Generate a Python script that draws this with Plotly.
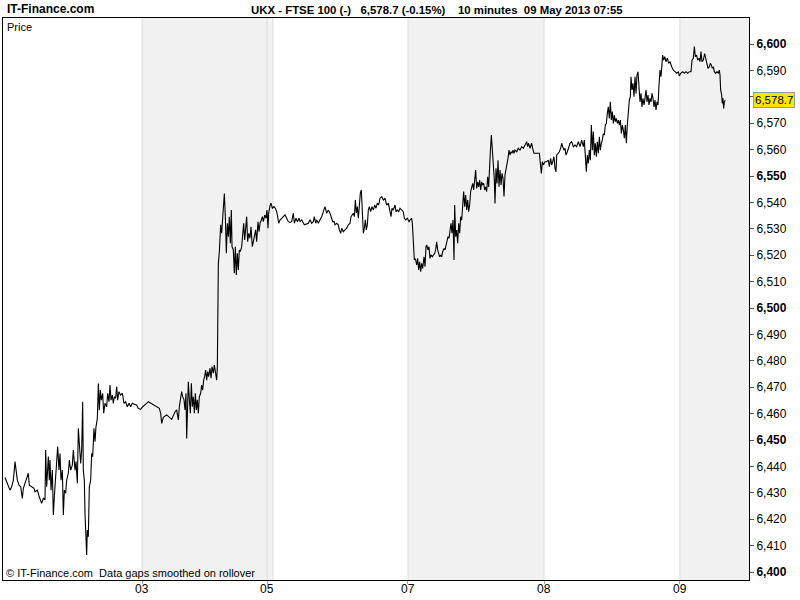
import plotly.graph_objects as go

# ---- data: (10-minute bar index, FTSE 100 price) ----
may02 = [(0.74,6435.8),(1.36,6434.2),(1.98,6432.9),(2.59,6431.0),(3.21,6432.3),(3.83,6434.8),(4.45,6441.8),(4.82,6438.6),
 (5.31,6434.8),(5.93,6432.9),(6.54,6432.3),(7.16,6427.9),(7.53,6431.7),(9.38,6437.4),(9.75,6432.9),(10.62,6432.3),
 (11.48,6431.7),(11.85,6430.4),(12.72,6431.0),(13.33,6428.8),(13.95,6427.3),(14.32,6426.0),(14.94,6427.9),(15.56,6427.3),
 (15.80,6446.2),(16.17,6432.3),(16.79,6443.7),(17.16,6434.8),(17.41,6442.4),(17.78,6431.0),(18.27,6438.6),(18.64,6421.6),
 (19.01,6428.5),(19.51,6434.8),(19.88,6439.9),(20.25,6447.5),(20.74,6438.6),(21.11,6444.9),(21.48,6434.8),(21.98,6438.6),
 (22.35,6421.6),(22.72,6431.0),(23.21,6429.8),(23.58,6434.8),(24.20,6437.4),(24.57,6442.4),(25.06,6438.6),(25.68,6440.5),
 (26.05,6446.2),(26.67,6438.6),(27.04,6441.8),(27.53,6433.6),(27.90,6454.4),(28.27,6450.0),(28.77,6441.1),(29.14,6446.2),
 (29.51,6464.5),(29.75,6438.6),(30.12,6434.8),(30.37,6422.2),(30.74,6412.1),(30.99,6406.4),(31.23,6415.9),(31.60,6413.4),
 (31.98,6432.3),(32.47,6434.8),(32.84,6444.9),(33.21,6443.7),(33.70,6454.4),(34.07,6449.4),(34.44,6455.0),(34.94,6458.2),
 (35.31,6471.4),(35.68,6461.3),(36.05,6468.9),(36.42,6465.1),(36.91,6467.7),(37.28,6460.1),(37.78,6463.9),(38.40,6462.6),
 (38.77,6467.7),(39.26,6464.5),(39.63,6470.8),(40.00,6465.1),(40.49,6467.0),(40.86,6463.9),(41.23,6466.4),(41.73,6465.8),
 (42.10,6470.2),(42.47,6465.1),(42.96,6468.3),(43.58,6467.0),(44.20,6467.7),(44.81,6463.9),(45.43,6464.5),(46.05,6462.6),
 (46.67,6463.9),(47.28,6462.6),(47.90,6463.9),(49.51,6463.2),(50.12,6462.0),(50.99,6461.6)]
may03 = [(51.73,6462.6),(52.59,6463.2),(53.21,6463.9),(53.83,6464.5),(56.67,6462.6),(57.90,6462.0),(58.40,6460.1),
 (58.77,6456.3),(59.39,6458.6),(60.62,6459.5),(62.47,6457.8),(63.71,6460.7),(64.32,6461.4),(64.94,6457.6),(65.31,6462.6),
 (65.81,6465.2),(66.17,6468.3),(66.54,6466.4),(67.04,6465.2),(67.41,6461.4),(67.78,6467.7),(68.03,6450.6),(68.40,6460.1),
 (68.64,6472.1),(69.02,6465.2),(69.39,6460.1),(69.76,6471.5),(70.13,6462.6),(70.50,6466.4),(70.87,6460.1),(71.24,6467.7),
 (71.61,6461.4),(71.98,6465.2),(72.35,6460.1),(72.72,6466.4),(73.21,6467.7),(73.58,6470.8),(73.95,6468.9),(74.32,6472.7),
 (74.69,6474.0),(75.06,6476.5),(75.44,6472.7),(75.81,6475.9),(76.18,6474.0),(76.67,6477.2),(77.04,6473.4),(77.41,6477.8),
 (77.91,6475.3),(78.27,6478.4),(78.77,6474.0),(79.14,6472.7),(79.39,6477.8),(79.51,6505.0),(79.76,6516.9),(80.13,6521.4),
 (80.37,6525.8),(80.62,6531.5),(80.99,6528.3),(81.36,6535.9),(81.61,6540.9),(81.98,6543.4),(82.35,6534.6),(82.72,6520.7),
 (83.09,6532.1),(83.46,6527.0),(83.83,6534.6),(84.20,6524.5),(84.57,6537.1),(84.82,6523.2),(85.31,6522.0),(85.68,6513.2),
 (86.05,6523.2),(86.42,6512.5),(86.79,6520.7),(87.16,6514.4),(87.53,6522.0),(87.90,6521.4),(88.40,6523.2),(88.77,6527.7),
 (89.14,6532.1),(89.51,6525.8),(89.88,6529.6),(90.25,6534.6),(90.62,6525.1),(90.99,6528.3),(91.48,6526.4),(91.85,6530.8),
 (92.35,6523.2),(92.72,6525.1),(93.21,6527.0),(93.58,6529.6),(93.95,6525.1),(94.45,6532.7),(94.82,6528.9),(95.19,6532.1),
 (95.68,6533.3),(96.05,6534.6),(96.42,6532.7),(96.92,6535.2),(97.41,6534.0),(97.78,6537.1)]
may05 = [(98.15,6530.2),(98.40,6535.9),(98.89,6538.7),(99.26,6539.7),(99.76,6537.8)]
may06 = [(100.37,6538.4),(100.87,6537.8),(101.36,6536.5),(101.73,6534.6),(102.10,6532.1),(102.60,6533.3),(103.21,6534.0),
 (103.83,6534.6),(104.45,6535.3),(105.07,6534.0),(105.68,6532.7),(106.30,6532.4),(106.92,6532.7),(107.54,6535.9),
 (107.91,6532.1),(108.52,6534.0),(109.02,6532.7),(109.63,6534.0),(110.00,6532.7),(110.62,6533.4),(111.24,6532.1),
 (111.61,6531.5),(113.09,6532.1),(113.71,6533.4),(114.33,6532.1),(114.94,6532.7),(115.31,6534.6),(115.81,6532.1),
 (116.18,6533.4),(116.79,6532.1),(117.41,6533.4),(118.03,6534.6),(118.65,6536.5),(119.26,6538.4),(119.88,6535.9),
 (120.50,6537.1),(121.12,6535.9),(121.73,6534.0),(122.10,6532.7),(122.60,6532.7),(122.97,6531.5),(123.59,6532.1),
 (124.20,6531.5),(124.57,6529.6),(125.07,6528.3),(125.44,6530.2),(126.06,6528.9),(126.67,6529.6),(127.29,6530.2),
 (127.91,6531.5),(128.52,6532.1),(128.89,6534.6),(129.26,6535.3),(129.76,6535.9),(130.13,6534.6),(130.50,6540.9),
 (130.87,6535.9),(131.24,6538.4),(131.61,6534.0),(131.98,6539.7),(132.35,6543.5),(132.72,6544.7),(133.09,6537.1),
 (133.46,6528.3),(133.83,6530.2),(134.20,6533.4),(134.57,6529.6),(134.94,6531.5),(135.31,6537.1),(135.68,6538.4),
 (136.18,6536.5),(136.67,6538.4),(137.17,6537.1),(137.66,6539.0),(138.15,6537.8),(138.65,6539.7),(139.14,6539.0),
 (139.64,6541.6),(140.25,6542.2),(140.87,6540.9),(141.49,6541.6),(142.10,6539.0),(142.72,6539.7),(143.34,6537.1),
 (143.71,6534.6),(144.08,6537.8),(144.57,6537.1),(145.19,6539.0),(145.56,6536.5),(146.06,6537.1),(146.55,6536.5),
 (147.04,6537.8),(148.27,6536.5),(148.65,6534.0),(149.14,6533.4),(149.76,6534.0)]
may07 = [(150.38,6532.7),(151.00,6533.6),(151.36,6534.0),(151.61,6532.1),(151.98,6525.2),(152.35,6518.2),(152.47,6518.8),
 (152.84,6518.2),(153.21,6516.3),(153.58,6518.8),(153.95,6514.4),(154.32,6517.5),(154.69,6513.8),(155.06,6516.9),
 (155.44,6515.0),(155.93,6519.4),(156.30,6515.6),(156.67,6523.2),(156.92,6523.9),(157.41,6522.0),(157.78,6523.2),
 (158.15,6518.8),(158.52,6520.1),(159.02,6519.4),(159.39,6520.1),(159.88,6520.7),(160.25,6522.0),(160.62,6525.1),
 (160.99,6522.0),(161.36,6520.7),(161.73,6519.4),(162.10,6520.1),(162.47,6519.4),(162.84,6521.3),(163.34,6522.6),
 (163.71,6522.0),(164.08,6523.9),(164.45,6524.5),(164.82,6527.0),(165.19,6526.4),(165.56,6529.5),(165.93,6532.1),
 (166.30,6528.3),(166.67,6533.3),(167.04,6518.2),(167.29,6539.0),(167.66,6527.0),(168.03,6529.5),(168.40,6524.5),
 (168.77,6532.1),(169.14,6528.3),(169.51,6534.6),(169.88,6533.3),(170.25,6539.6),(170.62,6544.1),(170.99,6538.4),
 (171.36,6542.8),(171.73,6537.1),(172.10,6540.9),(172.47,6536.5),(172.84,6539.0),(173.21,6544.1),(173.58,6545.9),
 (173.95,6547.2),(174.32,6544.7),(174.69,6549.7),(175.06,6552.3),(175.44,6545.3),(175.81,6547.8),(176.18,6545.9),
 (176.55,6548.5),(176.92,6544.7),(177.29,6547.8),(177.66,6546.6),(178.03,6547.2),(178.40,6544.7),(178.77,6545.9),
 (179.14,6544.1),(179.51,6549.7),(179.88,6545.9),(180.13,6554.2),(180.50,6559.2),(180.87,6565.5),(181.24,6559.8),
 (181.61,6556.0),(181.98,6548.5),(182.23,6539.6),(182.60,6552.9),(182.97,6547.2),(183.34,6556.0),(183.71,6545.9),
 (184.08,6552.3),(184.45,6546.6),(184.82,6551.0),(185.19,6549.1),(185.56,6542.2),(185.93,6550.4),(186.30,6552.3),
 (186.67,6554.8),(187.04,6556.7),(187.41,6559.8),(187.78,6557.9),(188.15,6559.2),(188.52,6558.6),(188.89,6559.8),
 (189.26,6558.6),(189.63,6559.8),(190.25,6559.2),(190.87,6560.5),(191.48,6559.8),(192.10,6561.1),(192.72,6560.5),
 (193.34,6561.7),(193.95,6563.0),(194.32,6561.1),(194.69,6562.4),(195.19,6560.5),(195.80,6562.4),(196.17,6560.5),
 (196.67,6558.6),(198.65,6558.6),(199.02,6553.5),(199.39,6551.0),(199.76,6555.4)]
may08 = [(200.13,6554.2),(200.75,6555.4),(201.36,6555.4),(201.98,6556.0),(202.35,6553.5),(202.84,6556.7),(203.21,6554.2),
 (203.59,6555.4),(204.08,6557.3),(204.45,6552.9),(204.82,6551.6),(205.07,6557.9),(205.56,6558.6),(206.05,6559.2),
 (206.55,6560.5),(206.92,6562.4),(207.29,6561.1),(207.78,6559.8),(208.15,6560.5),(208.52,6557.9),(209.02,6559.2),
 (209.39,6560.5),(210.00,6562.4),(210.62,6563.0),(211.24,6561.1),(211.86,6561.7),(212.47,6561.1),(213.09,6563.0),
 (213.71,6561.1),(214.33,6563.6),(214.94,6561.1),(215.31,6563.6),(215.68,6556.7),(216.05,6551.6),(216.42,6557.9),
 (216.79,6554.8),(217.16,6559.8),(217.54,6556.0),(217.91,6569.3),(218.28,6559.8),(218.65,6566.8),(219.02,6557.9),
 (219.39,6562.4),(219.76,6557.3),(220.13,6563.0),(220.50,6558.6),(220.87,6564.9),(221.24,6559.8),(221.61,6562.4),
 (221.98,6563.6),(222.35,6566.1),(222.72,6565.5),(223.09,6569.3),(223.46,6569.9),(223.83,6573.7),(224.20,6576.2),
 (224.57,6571.8),(224.94,6578.1),(225.31,6571.2),(225.68,6574.4),(226.05,6569.9),(226.42,6573.1),(226.79,6570.6),
 (227.16,6571.8),(227.54,6569.9),(227.91,6571.2),(228.28,6569.3),(228.65,6571.2),(229.02,6566.1),(229.39,6569.3),
 (229.76,6567.4),(230.13,6564.3),(230.50,6569.3),(230.87,6562.4),(231.24,6569.3),(231.61,6576.2),(231.98,6578.8),
 (232.35,6580.0),(232.59,6587.6),(232.96,6582.6),(233.33,6585.1),(233.71,6580.0),(234.08,6587.6),(234.45,6581.3),
 (234.82,6588.2),(235.19,6589.5),(235.56,6582.6),(235.93,6578.1),(236.30,6581.3),(236.67,6576.2),(237.04,6579.4),
 (237.41,6576.9),(237.78,6579.4),(238.15,6582.6),(238.52,6578.1),(238.89,6580.7),(239.26,6576.9),(239.63,6579.4),
 (240.00,6578.1),(240.37,6581.3),(240.75,6579.4),(241.12,6576.2),(241.49,6578.8),(241.86,6575.0),(242.23,6578.1),
 (242.60,6576.9),(242.97,6584.5),(243.34,6590.1),(243.71,6587.6),(244.08,6592.7),(244.33,6595.8),(244.70,6593.9),
 (245.07,6595.2),(245.56,6593.3),(246.06,6594.6),(246.55,6592.7),(247.04,6593.3),(247.66,6591.4),(248.28,6590.1),
 (248.89,6589.5),(249.51,6588.9),(250.13,6589.5),(250.50,6587.9)]
may09 = [(251.00,6588.9),(251.74,6589.5),(252.35,6588.9),(252.97,6589.5),(253.59,6588.9),(254.20,6589.5),(254.82,6589.5),
 (255.19,6593.9),(255.68,6594.6),(256.06,6599.0),(256.43,6595.2),(256.92,6595.8),(257.29,6593.9),(257.78,6594.6),
 (258.15,6593.3),(258.52,6597.1),(258.89,6593.3),(259.38,6593.9),(259.88,6596.4),(260.37,6594.6),(260.75,6592.7),
 (261.12,6590.8),(261.61,6591.4),(261.98,6592.7),(262.35,6592.0),(262.72,6590.8),(263.09,6591.4),(263.46,6589.5),
 (263.96,6588.9),(264.45,6589.5),(264.94,6588.9),(265.31,6590.1),(265.56,6588.2),(265.80,6582.6),(266.17,6580.7),
 (266.42,6577.5),(266.67,6579.4),(266.91,6575.6),(267.17,6578.1),(267.54,6578.7)]

day_starts = [51.5, 97.8, 100.0, 150.0, 200.4, 250.7]   # bar index where each session starts
tick_bars = [51.5, 97.8, 150.0, 200.4, 250.7]
tick_labels = ["03", "05", "07", "08", "09"]
shaded_days = [(51.5, 100.0), (150.0, 200.4), (250.7, 276.3)]
x_range = [0, 276.3]
y_range = [6396.97, 6609.85]
price_ticks = list(range(6400, 6601, 10))
last_price = 6578.7
title_text = "UKX - FTSE 100 (-)&nbsp;&nbsp; 6,578.7 (-0.15%)&nbsp;&nbsp;&nbsp; 10 minutes&nbsp; 09 May 2013 07:55"

series = may02 + may03 + may05 + may06 + may07 + may08 + may09
xs = [p[0] for p in series]
ys = [p[1] for p in series]

FONT = "Liberation Sans, Arial, sans-serif"

fig = go.Figure()
fig.add_trace(go.Scatter(x=xs, y=ys, mode="lines",
                         line=dict(color="black", width=1.1), hoverinfo="skip", showlegend=False))

shapes = []
for a, b in shaded_days:
    shapes.append(dict(type="rect", xref="x", yref="paper", x0=a, x1=b, y0=0, y1=1,
                       fillcolor="#f1f1f1", line=dict(width=0), layer="below"))
for d in day_starts:
    shapes.append(dict(type="line", xref="x", yref="paper", x0=d, x1=d, y0=0, y1=1,
                       line=dict(color="#dadde0", width=1), layer="below"))

# price labels: every 50 bold; the one hidden behind the last-price box left blank
tick_text = []
for v in price_ticks:
    s = f"{v:,}"
    if abs(v - last_price) < 5:
        tick_text.append("")
    elif v % 50 == 0:
        tick_text.append(f"<b>{s}</b>")
    else:
        tick_text.append(s)

annotations = [
    dict(xref="paper", yref="paper", x=0, y=1, xanchor="left", yanchor="bottom", xshift=2, yshift=0,
         text="<b>IT-Finance.com</b>", showarrow=False, font=dict(size=12, family=FONT)),
    dict(xref="paper", yref="paper", x=0.3295, y=1, xanchor="left", yanchor="bottom", yshift=0,
         text="<b>" + title_text + "</b>", showarrow=False, font=dict(size=11.4, family=FONT)),
    dict(xref="paper", yref="paper", x=0, y=1, xanchor="left", yanchor="top", xshift=2, yshift=-1,
         text="Price", showarrow=False, font=dict(size=11, family=FONT)),
    dict(xref="paper", yref="paper", x=0, y=0, xanchor="left", yanchor="bottom", xshift=1, yshift=-1,
         text="© IT-Finance.com&nbsp; Data gaps smoothed on rollover", showarrow=False,
         font=dict(size=11, family=FONT)),
    dict(xref="paper", yref="y", x=1, y=last_price, xanchor="left", yanchor="middle", xshift=4,
         text=f"{last_price:,.1f}", showarrow=False, bgcolor="#ffe600", bordercolor="#8c9bb0",
         borderwidth=1, borderpad=1, font=dict(size=11.5, family=FONT)),
]
for tb, tl in zip(tick_bars, tick_labels):
    annotations.append(dict(xref="x", yref="paper", x=tb, y=0, xanchor="center", yanchor="middle",
                            yshift=-9, text=tl, showarrow=False, font=dict(size=12, family=FONT)))

fig.update_layout(
    width=800, height=600,
    margin=dict(l=3, r=51, t=18, b=20, autoexpand=False),
    paper_bgcolor="white", plot_bgcolor="white",
    font=dict(family=FONT, size=12, color="black"),
    shapes=shapes,
    xaxis=dict(range=x_range, tickvals=tick_bars, ticktext=[""] * len(tick_bars), showgrid=False,
               zeroline=False, showline=True, linecolor="black", linewidth=1, mirror=True,
               ticks="outside", ticklen=3, tickcolor="#9aa4aa"),
    yaxis=dict(range=y_range, side="right", tickvals=price_ticks, ticktext=tick_text, showgrid=False,
               zeroline=False, showline=True, linecolor="black", linewidth=1, mirror=True,
               ticks="outside", ticklen=4, tickcolor="#555555", tickfont=dict(size=12, family=FONT)),
    annotations=annotations,
)

fig.write_html("out.html", config={"displayModeBar": False},
               post_script="document.body.style.margin='0';document.body.style.overflow='hidden';")
